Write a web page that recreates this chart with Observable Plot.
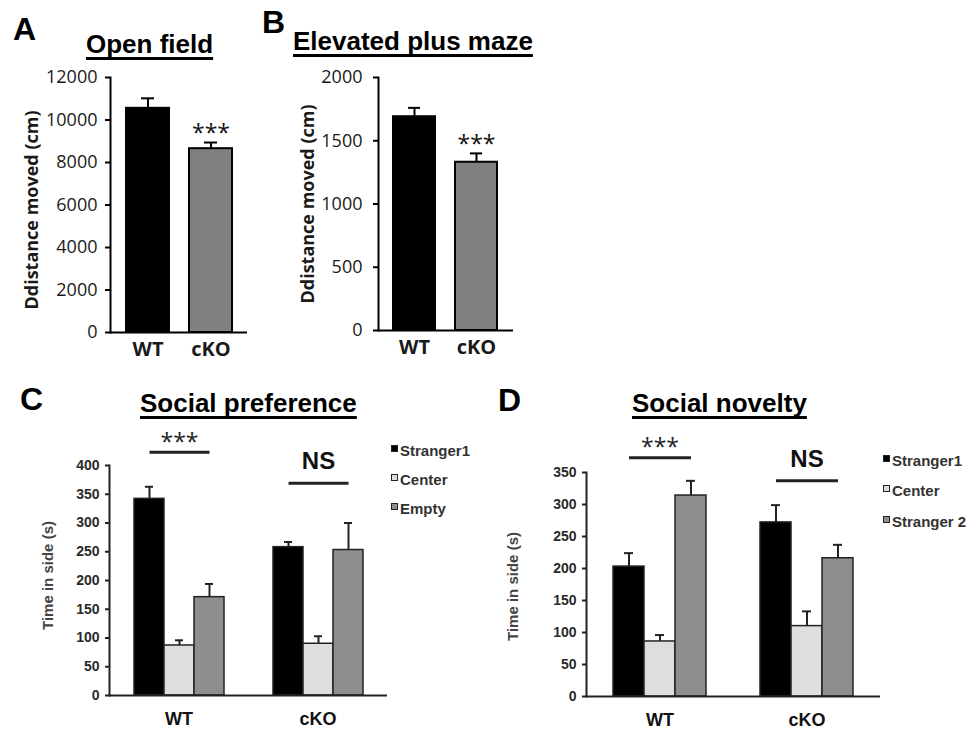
<!DOCTYPE html>
<html>
<head>
<meta charset="utf-8">
<script src="https://cdn.jsdelivr.net/npm/d3@7"></script>
<script src="https://cdn.jsdelivr.net/npm/@observablehq/plot@0.6"></script>
<style>
  body { margin: 0; background: #fff; }
  #fig { position: relative; width: 969px; height: 729px; overflow: hidden; background: #fff;
         font-family: "Liberation Sans", Arial, sans-serif; color: #000; }
  .panel { position: absolute; }
  .letter { position: absolute; font-weight: bold; font-size: 32px; line-height: 1; }
  .title { position: absolute; font-weight: bold; font-size: 26px; line-height: 1; white-space: nowrap;
           text-decoration: underline; text-decoration-thickness: 2.5px; text-underline-offset: 4px;
           text-decoration-skip-ink: none; }
  .legend-row { position: absolute; font-weight: bold; font-size: 15px; line-height: 1; color: #333; white-space: nowrap; }
  .legend-row .sw { position: absolute; left: 0; top: 2px; width: 5px; height: 5px; border: 1.5px solid #222; }
  .legend-row .lb { position: absolute; left: 9px; top: 0; }
</style>
</head>
<body>
<div id="fig"></div>
<script>
// ---- Open field / elevated plus maze (distance moved, cm) ----
const genotypes = ["WT", "cKO"];
const genotypeColors = ["#000000", "#808080"];
const openFieldMean = [10550, 8650];
const openFieldSem = [470, 290];
const openFieldStars = ["", "***"];
const plusMazeMean = [1690, 1330];
const plusMazeSem = [70, 70];
const plusMazeStars = ["", "***"];
const openFieldTicks = [0, 2000, 4000, 6000, 8000, 10000, 12000];
const plusMazeTicks = [0, 500, 1000, 1500, 2000];

// ---- Three-chamber test (time in side, s) ----
const prefSeries = ["Stranger1", "Center", "Empty"];
const prefMeanWT = [342, 87, 171];
const prefSemWT = [21, 9, 23];
const prefMeanKO = [258, 90, 253];
const prefSemKO = [9, 13, 47];
const prefTicks = [0, 50, 100, 150, 200, 250, 300, 350, 400];
const prefBrackets = [
  {group: "WT", from: "Stranger1", to: "Empty", level: 423, label: "***"},
  {group: "cKO", from: "Stranger1", to: "Empty", level: 369, label: "NS"}
];

const novSeries = ["Stranger1", "Center", "Stranger 2"];
const novMeanWT = [203, 86, 314];
const novSemWT = [21, 10, 23];
const novMeanKO = [272, 110, 216];
const novSemKO = [27, 23, 21];
const novTicks = [0, 50, 100, 150, 200, 250, 300, 350];
const novBrackets = [
  {group: "WT", from: "Stranger1", to: "Stranger 2", level: 373, label: "***"},
  {group: "cKO", from: "Stranger1", to: "Stranger 2", level: 337, label: "NS"}
];

const seriesColors = ["#000000", "#dedede", "#8e8e8e"];
const distanceLabel = "Ddistance moved (cm)";
const timeLabel = "Time in side (s)";

const fig = document.getElementById("fig");

function addDiv(cls, text, left, top) {
  const d = document.createElement("div");
  d.className = cls;
  d.textContent = text;
  d.style.left = left + "px";
  d.style.top = top + "px";
  fig.appendChild(d);
  return d;
}

function place(node, left, top) {
  const wrap = document.createElement("div");
  wrap.className = "panel";
  wrap.style.left = left + "px";
  wrap.style.top = top + "px";
  wrap.appendChild(node);
  fig.appendChild(wrap);
}

// Two-bar panel: WT vs cKO with SEM whiskers and significance stars
function distancePanel({means, sems, stars, ticks, left, top, width, height, margins, titleDx, titleDy, tickPadding}) {
  const rows = genotypes.map((g, i) => ({group: g, mean: means[i], sem: sems[i], star: stars[i]}));
  const chart = Plot.plot({
    width, height, ...margins,
    style: {background: "transparent", overflow: "visible", fontFamily: "'Open Sans', sans-serif", color: "#1a1a1a"},
    x: {domain: genotypes, paddingInner: 0.32, paddingOuter: 0.24},
    y: {domain: [ticks[0], ticks[ticks.length - 1]]},
    color: {domain: genotypes, range: genotypeColors},
    marks: [
      Plot.barY(rows, {x: "group", y: "mean", fill: "group", stroke: "#000", strokeWidth: 2}),
      Plot.ruleX(rows, {x: "group", y1: "mean", y2: d => d.mean + d.sem, stroke: "#000", strokeWidth: 2}),
      Plot.tickY(rows, {x: "group", y: d => d.mean + d.sem, stroke: "#000", strokeWidth: 2, insetLeft: 15, insetRight: 15}),
      Plot.text(rows, {x: "group", y: d => d.mean + d.sem, text: "star", fontSize: 23, dy: -9, fill: "#111"}),
      Plot.ruleY([0], {stroke: "#000", strokeWidth: 2}),
      Plot.frame({anchor: "left", stroke: "#000", strokeWidth: 2}),
      Plot.axisY({ticks, tickSize: 5, tickPadding, tickFormat: d3.format("d"), fontSize: 18, label: null, stroke: "#000", strokeWidth: 2}),
      Plot.axisX({tickSize: 0, tickPadding: 9, fontSize: 20, fontWeight: "bold", label: null}),
      Plot.text([distanceLabel], {text: d => d, frameAnchor: "left", textAnchor: "middle", rotate: -90, dx: titleDx, dy: titleDy,
        fontSize: 18, fontWeight: "bold", fill: "#1a1a1a"})
    ]
  });
  place(chart, left, top);
}

// Grouped bars: genotype facets, chamber series within each facet
function chamberPanel({series, meanWT, semWT, meanKO, semKO, brackets, ticks, left, top, width, height, margins, outer, titleDx, titleDy}) {
  const rows = genotypes.flatMap((g, gi) => series.map((s, si) => ({
    group: g, series: s,
    mean: gi === 0 ? meanWT[si] : meanKO[si],
    sem: gi === 0 ? semWT[si] : semKO[si]
  })));
  const chart = Plot.plot({
    width, height, ...margins,
    style: {background: "transparent", overflow: "visible", fontFamily: "'Liberation Sans', Arial, sans-serif", color: "#2a2a2a"},
    fx: {domain: genotypes, padding: 0, label: null},
    x: {domain: series, paddingInner: 0, paddingOuter: outer, axis: null},
    y: {domain: [ticks[0], ticks[ticks.length - 1]]},
    color: {domain: series, range: seriesColors},
    marks: [
      Plot.barY(rows, {fx: "group", x: "series", y: "mean", fill: "series", stroke: "#222", strokeWidth: 1.5}),
      Plot.ruleX(rows, {fx: "group", x: "series", y1: "mean", y2: d => d.mean + d.sem, stroke: "#222", strokeWidth: 2}),
      Plot.tickY(rows, {fx: "group", x: "series", y: d => d.mean + d.sem, stroke: "#222", strokeWidth: 2, insetLeft: 11, insetRight: 11}),
      Plot.ruleY([0], {stroke: "#222", strokeWidth: 2}),
      Plot.frame({anchor: "left", facetAnchor: "left", stroke: "#222", strokeWidth: 2}),
      Plot.link(brackets, {fx: "group", x1: "from", x2: "to", y1: "level", y2: "level", stroke: "#222", strokeWidth: 3}),
      Plot.text(brackets.filter(b => b.label === "***"), {fx: "group", x: d => series[1], y: "level", text: "label",
        fontSize: 23, dy: -10, fontFamily: "'Open Sans', sans-serif", fill: "#222"}),
      Plot.text(brackets.filter(b => b.label !== "***"), {fx: "group", x: d => series[1], y: "level", text: "label",
        fontSize: 24, fontWeight: "bold", dy: -22, fill: "#111"}),
      Plot.axisY({ticks, tickSize: 4, tickPadding: 6, fontSize: 14, fontWeight: "bold", label: null, stroke: "#222", strokeWidth: 2}),
      Plot.axisFx({anchor: "bottom", tickSize: 0, tickPadding: 17, fontSize: 18, fontWeight: "bold", label: null, fill: "#111"}),
      Plot.text([timeLabel], {text: d => d, frameAnchor: "left", facetAnchor: "left", textAnchor: "middle", rotate: -90,
        dx: titleDx, dy: titleDy, fontSize: 15, fontWeight: "bold", fill: "#444"})
    ]
  });
  place(chart, left, top);
}

function legend(series, left, tops) {
  series.forEach((s, i) => {
    const row = document.createElement("div");
    row.className = "legend-row";
    row.style.left = left + "px";
    row.style.top = tops[i] + "px";
    const sw = document.createElement("span");
    sw.className = "sw";
    sw.style.background = seriesColors[i];
    const lb = document.createElement("span");
    lb.className = "lb";
    lb.textContent = s;
    row.appendChild(sw);
    row.appendChild(lb);
    fig.appendChild(row);
  });
}

// Panel A
distancePanel({
  means: openFieldMean, sems: openFieldSem, stars: openFieldStars, ticks: openFieldTicks,
  left: 0, top: 60, width: 262, height: 300,
  margins: {marginLeft: 110, marginRight: 15, marginTop: 17, marginBottom: 28},
  titleDx: -78, titleDy: 5, tickPadding: 8
});
addDiv("letter", "A", 13, 13);
addDiv("title", "Open field", 86, 31);

// Panel B
distancePanel({
  means: plusMazeMean, sems: plusMazeSem, stars: plusMazeStars, ticks: plusMazeTicks,
  left: 262, top: 60, width: 268, height: 300,
  margins: {marginLeft: 116, marginRight: 17, marginTop: 17, marginBottom: 30},
  titleDx: -70, titleDy: 0, tickPadding: 11
});
addDiv("letter", "B", 262, 6);
addDiv("title", "Elevated plus maze", 293, 28);

// Panel C
chamberPanel({
  series: prefSeries, meanWT: prefMeanWT, semWT: prefSemWT, meanKO: prefMeanKO, semKO: prefSemKO,
  brackets: prefBrackets, ticks: prefTicks,
  left: 0, top: 420, width: 480, height: 309,
  margins: {marginLeft: 108, marginRight: 93, marginTop: 45, marginBottom: 34},
  outer: 0.75, titleDx: -61, titleDy: -5
});
addDiv("letter", "C", 20, 383);
addDiv("title", "Social preference", 140, 390);
legend(prefSeries, 391, [443, 472, 501]);

// Panel D
chamberPanel({
  series: novSeries, meanWT: novMeanWT, semWT: novSemWT, meanKO: novMeanKO, semKO: novSemKO,
  brackets: novBrackets, ticks: novTicks,
  left: 480, top: 420, width: 489, height: 309,
  margins: {marginLeft: 106, marginRight: 89, marginTop: 52, marginBottom: 33},
  outer: 0.8, titleDx: -73, titleDy: 2
});
addDiv("letter", "D", 498, 384);
addDiv("title", "Social novelty", 632, 390);
legend(novSeries, 883, [453, 483, 514]);
</script>
</body>
</html>
